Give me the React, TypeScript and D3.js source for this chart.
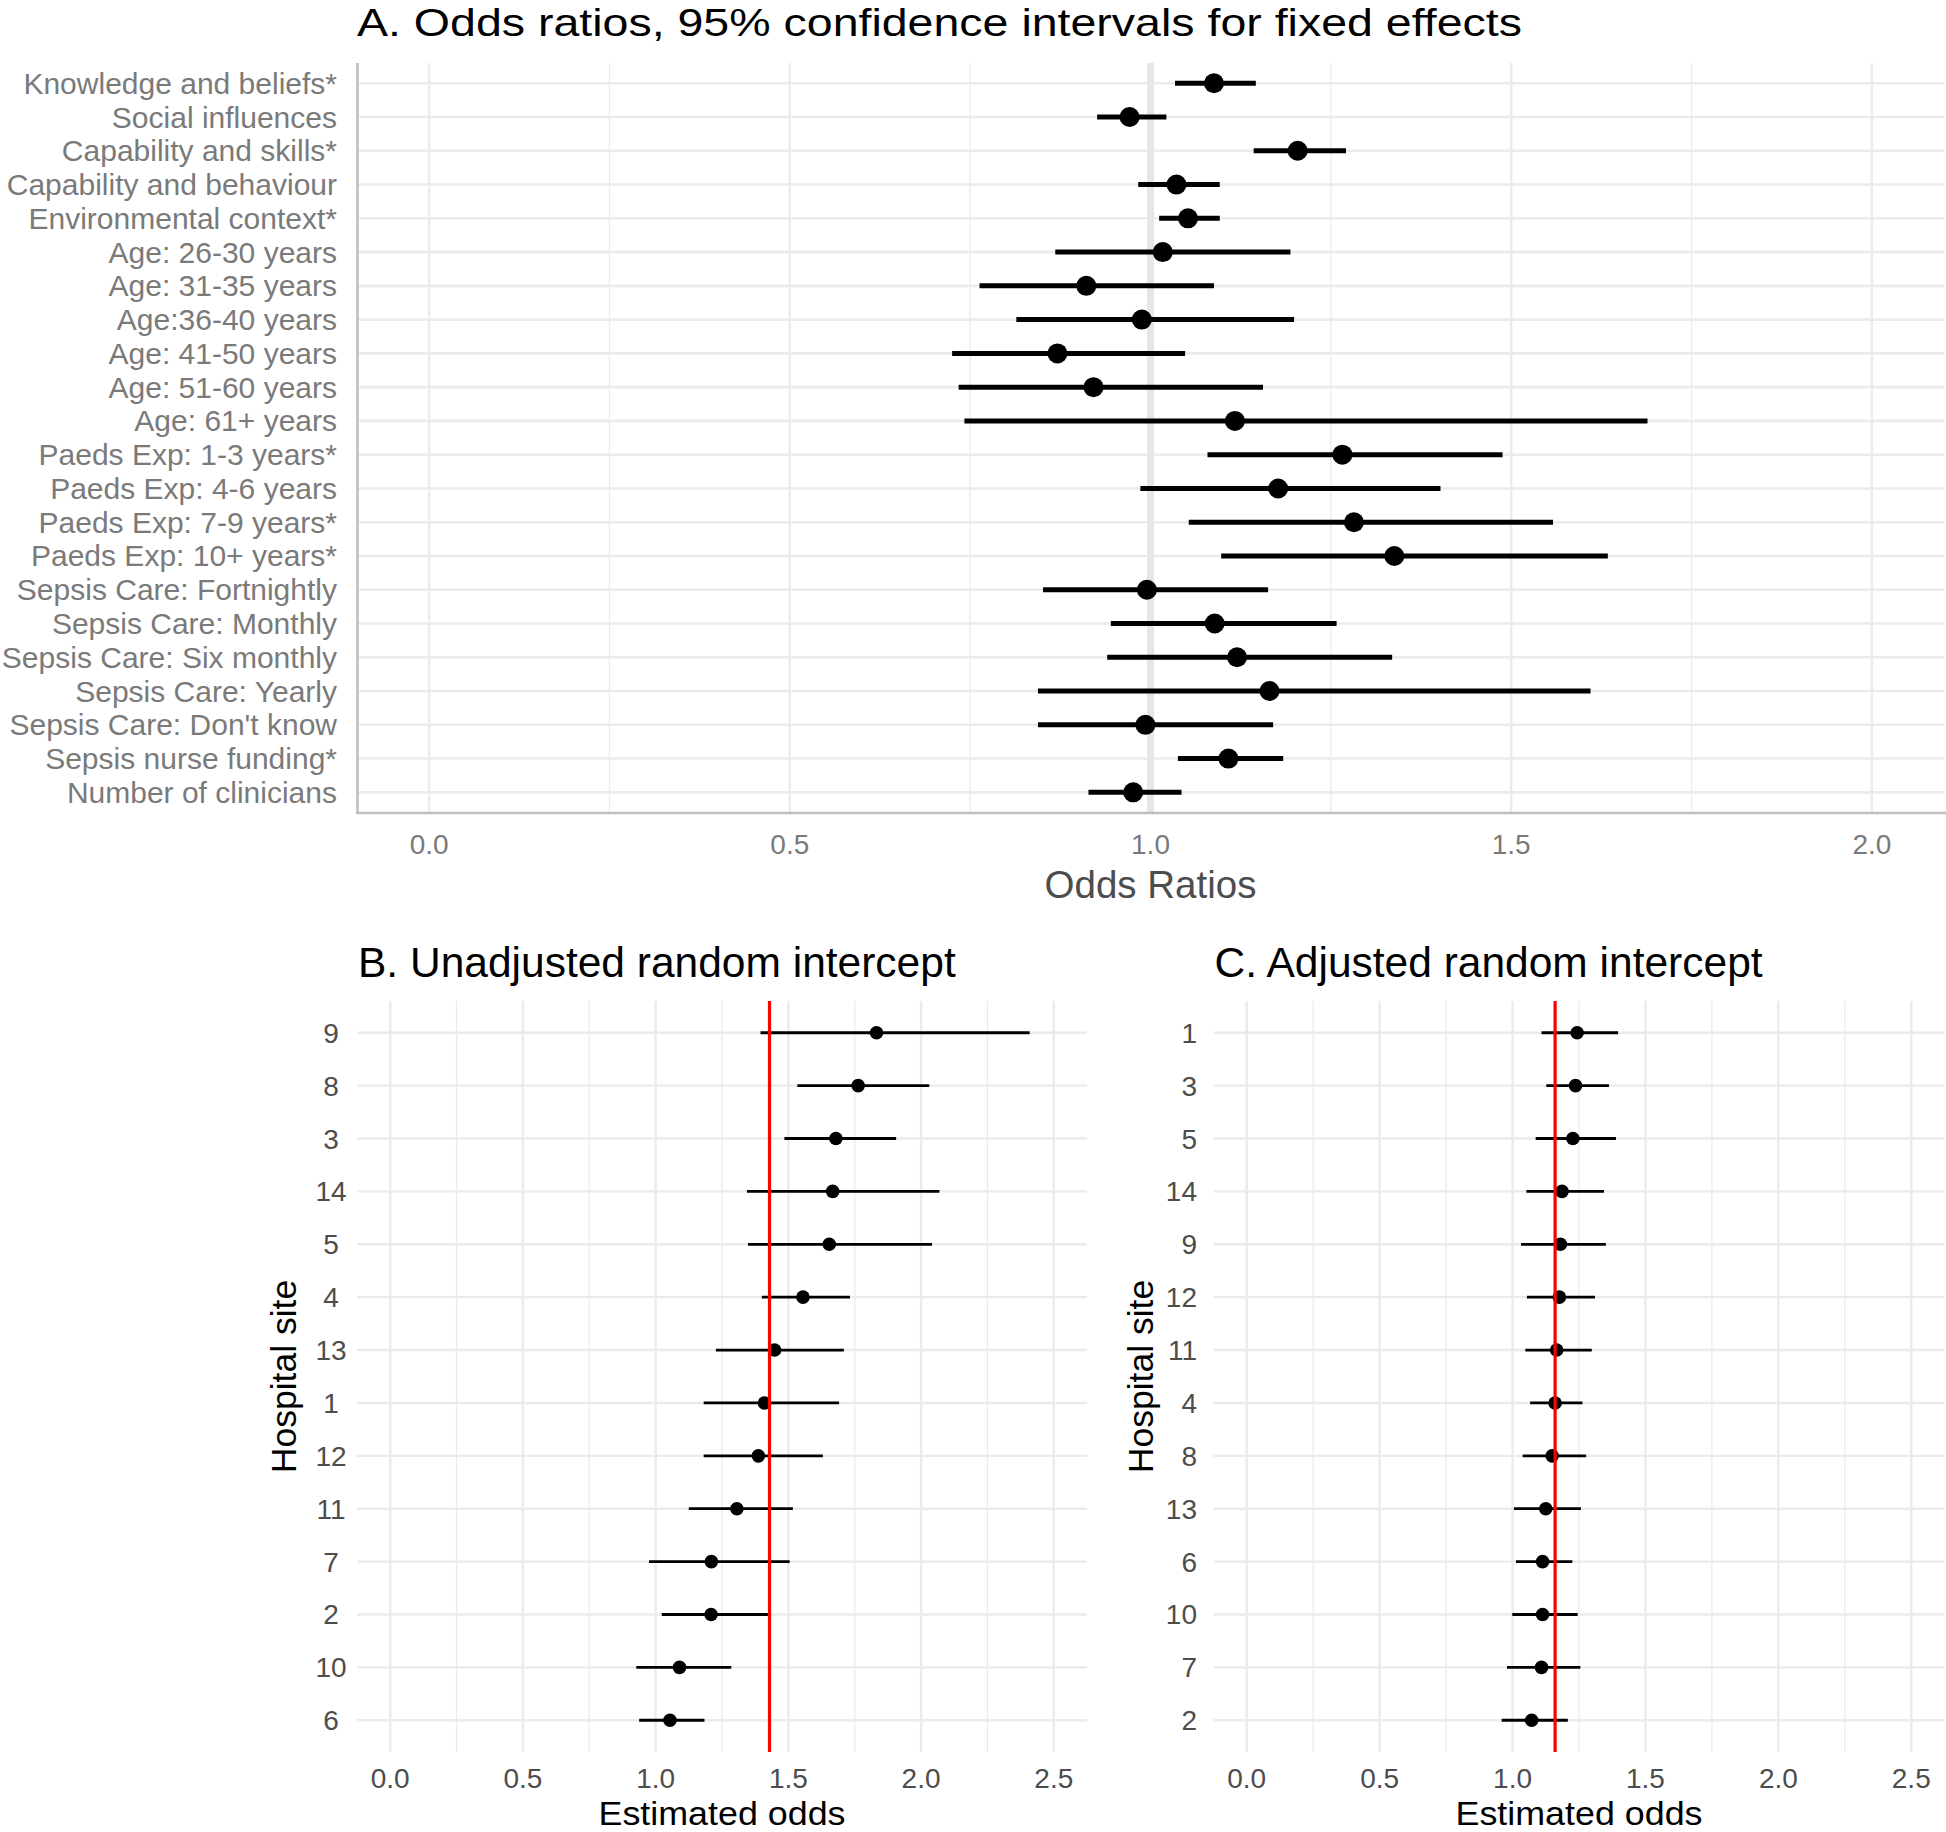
import React from 'react';
import * as d3 from 'd3';

// ---------- Panel A data ----------
const fixedLabels = [
  'Knowledge and beliefs*',
  'Social influences',
  'Capability and skills*',
  'Capability and behaviour',
  'Environmental context*',
  'Age: 26-30 years',
  'Age: 31-35 years',
  'Age:36-40 years',
  'Age: 41-50 years',
  'Age: 51-60 years',
  'Age: 61+ years',
  'Paeds Exp: 1-3 years*',
  'Paeds Exp: 4-6 years',
  'Paeds Exp: 7-9 years*',
  'Paeds Exp: 10+ years*',
  'Sepsis Care: Fortnightly',
  'Sepsis Care: Monthly',
  'Sepsis Care: Six monthly',
  'Sepsis Care: Yearly',
  "Sepsis Care: Don't know",
  'Sepsis nurse funding*',
  'Number of clinicians',
];
const fixedOR = [1.088, 0.971, 1.204, 1.036, 1.052, 1.017, 0.911, 0.988, 0.871, 0.921, 1.117,
  1.266, 1.177, 1.282, 1.338, 0.995, 1.089, 1.120, 1.165, 0.993, 1.108, 0.976];
const fixedLo = [1.034, 0.926, 1.143, 0.983, 1.012, 0.868, 0.763, 0.814, 0.725, 0.734, 0.742,
  1.079, 0.986, 1.053, 1.098, 0.851, 0.945, 0.940, 0.844, 0.844, 1.038, 0.914];
const fixedHi = [1.146, 1.022, 1.271, 1.096, 1.096, 1.194, 1.088, 1.199, 1.048, 1.156, 1.689,
  1.488, 1.402, 1.558, 1.634, 1.163, 1.258, 1.335, 1.610, 1.170, 1.184, 1.043];
const ticksA = [0, 0.5, 1, 1.5, 2];
const minorTicksA = [0.25, 0.75, 1.25, 1.75];

// ---------- Panel B data ----------
const unadjSites = ['9', '8', '3', '14', '5', '4', '13', '1', '12', '11', '7', '2', '10', '6'];
const unadjEst = [1.832, 1.763, 1.679, 1.667, 1.654, 1.555, 1.448, 1.410, 1.387, 1.306, 1.210, 1.209, 1.090, 1.054];
const unadjLo = [1.395, 1.534, 1.485, 1.344, 1.348, 1.400, 1.227, 1.181, 1.181, 1.125, 0.975, 1.023, 0.927, 0.938];
const unadjHi = [2.409, 2.031, 1.906, 2.069, 2.041, 1.732, 1.709, 1.691, 1.630, 1.517, 1.505, 1.427, 1.285, 1.184];
const unadjMean = 1.429;

// ---------- Panel C data ----------
const adjSites = ['1', '3', '5', '14', '9', '12', '11', '4', '8', '13', '6', '10', '7', '2'];
const adjEst = [1.243, 1.237, 1.227, 1.186, 1.180, 1.176, 1.166, 1.160, 1.149, 1.125, 1.113, 1.113, 1.109, 1.072];
const adjLo = [1.109, 1.127, 1.087, 1.052, 1.032, 1.054, 1.048, 1.066, 1.038, 1.005, 1.013, 0.999, 0.979, 0.959];
const adjHi = [1.397, 1.363, 1.389, 1.344, 1.351, 1.310, 1.298, 1.263, 1.277, 1.257, 1.225, 1.245, 1.255, 1.208];
const adjMean = 1.160;

const ticksBC = [0, 0.5, 1, 1.5, 2, 2.5];
const minorTicksBC = [0.25, 0.75, 1.25, 1.75, 2.25];

const FONT = '"Liberation Sans", Arial, Helvetica, sans-serif';
const GRID = '#EBEBEB';

function PanelA() {
  const x = d3.scaleLinear().domain([-0.1, 2.1]).range([357, 1944]);
  const y = d3.scalePoint<string>().domain(fixedLabels).range([63, 812.6]).padding(0.6);
  const top = 63;
  const bottom = 813;
  return (
    <g>
      <text x={357} y={36} fontSize={39} fill="#000" textLength={1165} lengthAdjust="spacingAndGlyphs">
        A. Odds ratios, 95% confidence intervals for fixed effects
      </text>
      {minorTicksA.map((t) => (
        <line key={'mn' + t} x1={x(t)} x2={x(t)} y1={top} y2={bottom} stroke={GRID} strokeWidth={1.3} />
      ))}
      {ticksA.map((t) => (
        <line key={'mj' + t} x1={x(t)} x2={x(t)} y1={top} y2={bottom} stroke={GRID} strokeWidth={2.4} />
      ))}
      {fixedLabels.map((l) => (
        <line key={'h' + l} x1={357} x2={1944} y1={y(l)} y2={y(l)} stroke={GRID} strokeWidth={2.6} />
      ))}
      <line x1={x(1)} x2={x(1)} y1={top} y2={bottom} stroke="#E6E6E6" strokeWidth={7} />
      <line x1={357.5} x2={357.5} y1={top} y2={bottom + 1} stroke="#BEBEBE" strokeWidth={2.6} />
      <line x1={356} x2={1946} y1={bottom} y2={bottom} stroke="#BEBEBE" strokeWidth={2.6} />
      {fixedLabels.map((l, i) => (
        <g key={'e' + l}>
          <line x1={x(fixedLo[i])} x2={x(fixedHi[i])} y1={y(l)} y2={y(l)} stroke="#000" strokeWidth={5} />
          <circle cx={x(fixedOR[i])} cy={y(l)} r={10} fill="#000" />
        </g>
      ))}
      {fixedLabels.map((l) => (
        <text key={'yl' + l} x={337} y={(y(l) as number) + 10.5} fontSize={30} fill="#7A7A7A" textAnchor="end">
          {l}
        </text>
      ))}
      {ticksA.map((t) => (
        <text key={'xt' + t} x={x(t)} y={854} fontSize={28} fill="#7A7A7A" textAnchor="middle">
          {d3.format('.1f')(t)}
        </text>
      ))}
      <text x={x(1)} y={898} fontSize={38.5} fill="#4D4D4D" textAnchor="middle">Odds Ratios</text>
    </g>
  );
}

interface SmallProps {
  title: string;
  sites: string[];
  est: number[];
  lo: number[];
  hi: number[];
  mean: number;
  left: number;
  right: number;
  labelX: number;
  labelAnchor: 'middle' | 'end';
  yTitleX: number;
}

function SmallPanel(p: SmallProps) {
  const top = 1001;
  const bottom = 1752;
  const x = d3.scaleLinear().domain([-0.125, 2.625]).range([p.left, p.right]);
  const y = d3.scalePoint<string>().domain(p.sites).range([top, bottom]).padding(0.6);
  const cx = (p.left + p.right) / 2;
  return (
    <g>
      <text x={p.left + 1} y={977} fontSize={42.5} fill="#000">{p.title}</text>
      {minorTicksBC.map((t) => (
        <line key={'mn' + t} x1={x(t)} x2={x(t)} y1={top} y2={bottom} stroke={GRID} strokeWidth={1.3} />
      ))}
      {ticksBC.map((t) => (
        <line key={'mj' + t} x1={x(t)} x2={x(t)} y1={top} y2={bottom} stroke={GRID} strokeWidth={2.4} />
      ))}
      {p.sites.map((s) => (
        <line key={'h' + s} x1={p.left} x2={p.right} y1={y(s)} y2={y(s)} stroke={GRID} strokeWidth={2.4} />
      ))}
      {p.sites.map((s, i) => (
        <g key={'e' + s}>
          <line x1={x(p.lo[i])} x2={x(p.hi[i])} y1={y(s)} y2={y(s)} stroke="#000" strokeWidth={2.8} />
          <circle cx={x(p.est[i])} cy={y(s)} r={6.8} fill="#000" />
        </g>
      ))}
      <line x1={x(p.mean)} x2={x(p.mean)} y1={top} y2={bottom} stroke="#FF0000" strokeWidth={3.2} />
      {p.sites.map((s) => (
        <text key={'yl' + s} x={p.labelX} y={(y(s) as number) + 10} fontSize={28} fill="#4D4D4D" textAnchor={p.labelAnchor}>
          {s}
        </text>
      ))}
      {ticksBC.map((t) => (
        <text key={'xt' + t} x={x(t)} y={1787.5} fontSize={28} fill="#4D4D4D" textAnchor="middle">
          {d3.format('.1f')(t)}
        </text>
      ))}
      <text x={cx} y={1824.5} fontSize={33.5} fill="#000" textAnchor="middle" textLength={247} lengthAdjust="spacingAndGlyphs">
        Estimated odds
      </text>
      <text transform={`translate(${p.yTitleX},${(top + bottom) / 2}) rotate(-90)`} fontSize={35.5} fill="#000" textAnchor="middle">
        Hospital site
      </text>
    </g>
  );
}

export default function App() {
  return (
    <svg
      width={1946}
      height={1832}
      style={{ position: 'absolute', left: 0, top: 0, background: '#fff', fontFamily: FONT }}
    >
      <rect x={0} y={0} width={1946} height={1832} fill="#fff" />
      <PanelA />
      <SmallPanel
        title="B. Unadjusted random intercept"
        sites={unadjSites}
        est={unadjEst}
        lo={unadjLo}
        hi={unadjHi}
        mean={unadjMean}
        left={357}
        right={1087}
        labelX={331}
        labelAnchor="middle"
        yTitleX={296}
      />
      <SmallPanel
        title="C. Adjusted random intercept"
        sites={adjSites}
        est={adjEst}
        lo={adjLo}
        hi={adjHi}
        mean={adjMean}
        left={1213.5}
        right={1944.5}
        labelX={1197}
        labelAnchor="end"
        yTitleX={1153}
      />
    </svg>
  );
}
